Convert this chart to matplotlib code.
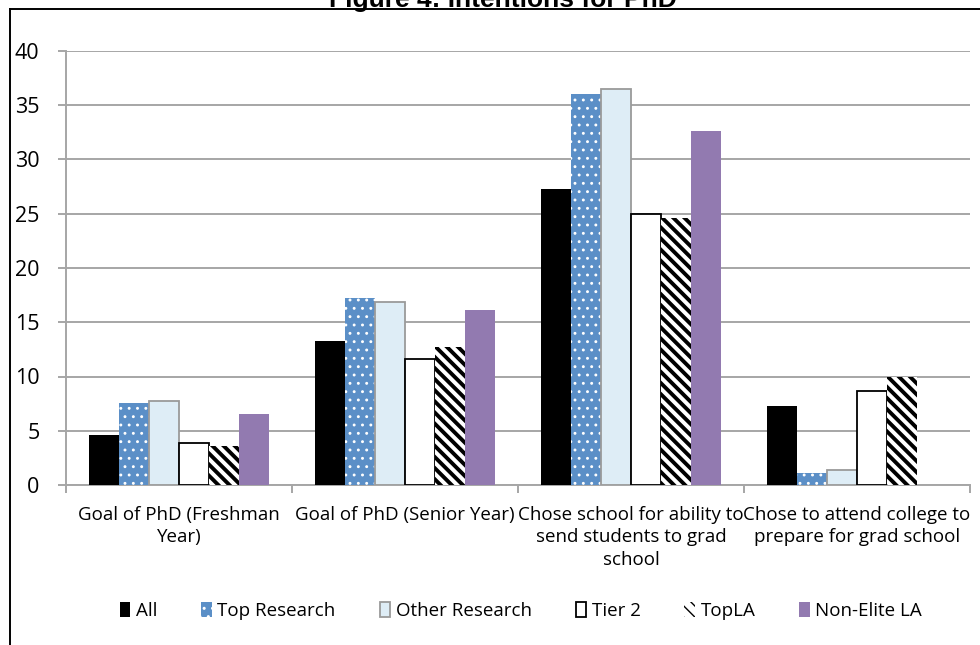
import matplotlib
matplotlib.use("Agg")
import matplotlib.pyplot as plt
from matplotlib.lines import Line2D
import numpy as np

plt.rcParams['font.family'] = ['Open Sans', 'DejaVu Sans']

title = "Figure 4: Intentions for PhD"
categories = [
    "Goal of PhD (Freshman\nYear)",
    "Goal of PhD (Senior Year)",
    "Chose school for ability to\nsend students to grad\nschool",
    "Chose to attend college to\nprepare for grad school",
]
series_names = ["All", "Top Research", "Other Research", "Tier 2", "TopLA", "Non-Elite LA"]
all_vals = [4.6, 13.3, 27.3, 7.3]
top_research = [7.55, 17.2, 36.0, 1.1]
other_research = [7.7, 16.9, 36.5, 1.4]
tier2 = [3.85, 11.6, 25.0, 8.65]
top_la = [3.6, 12.7, 24.6, 9.95]
non_elite_la = [6.5, 16.1, 32.6, 0.0]
y_ticks = [0, 5, 10, 15, 20, 25, 30, 35, 40]

series = [all_vals, top_research, other_research, tier2, top_la, non_elite_la]
styles = [
    dict(facecolor="black", edgecolor="black", linewidth=0),
    dict(facecolor="#5B8FC7", edgecolor="white", linewidth=0, hatch=".."),
    dict(facecolor="#DEEDF6", edgecolor="#9A9A9A", linewidth=1.3),
    dict(facecolor="white", edgecolor="black", linewidth=1.3),
    dict(facecolor="white", edgecolor="black", linewidth=0, hatch="\\\\\\"),
    dict(facecolor="#927AB0", edgecolor="#927AB0", linewidth=0),
]
hatch_lw = [None, 0.9, None, None, 2.8, None]

fig = plt.figure(figsize=(9.8, 6.45), dpi=100)
ax = fig.add_axes([66 / 980, 1 - 485 / 645, 904 / 980, 434 / 645])

x = np.arange(len(categories))
width = 0.8 / len(series)
handles = []
for i, (vals, st) in enumerate(zip(series, styles)):
    offs = -0.4 + width * (i + 0.5)
    with plt.rc_context({'hatch.linewidth': hatch_lw[i] or 1.0}):
        bars = ax.bar(x + offs, vals, width, label=series_names[i], zorder=3, **st)
        if hatch_lw[i]:
            for b in bars:
                if hasattr(b, "set_hatch_linewidth"):
                    b.set_hatch_linewidth(hatch_lw[i])
    handles.append(bars)

ax.set_xlim(-0.5, len(categories) - 0.5)
ax.set_ylim(0, 40)
ax.set_yticks(y_ticks)
ax.set_yticklabels([str(v) for v in y_ticks], fontsize=15.5)
ax.yaxis.grid(True, color="#A6A6A6", linewidth=1.4, zorder=0)
ax.set_axisbelow(True)
ax.tick_params(axis="y", length=6, width=1.4, color="#A6A6A6", pad=13)

ax.set_xticks(np.arange(len(categories) + 1) - 0.5)
ax.set_xticklabels([])
ax.set_xticks(x, minor=True)
ax.set_xticklabels(categories, minor=True, fontsize=13.5, linespacing=1.32)
ax.tick_params(axis="x", which="major", length=6, width=1.4, color="#A6A6A6")
ax.tick_params(axis="x", which="minor", length=0, pad=15)

for side in ("top", "right"):
    ax.spines[side].set_visible(False)
for side in ("left", "bottom"):
    ax.spines[side].set_color("#A6A6A6")
    ax.spines[side].set_linewidth(1.4)

leg = fig.legend(handles=handles, labels=series_names, loc="center",
                 bbox_to_anchor=(521 / 980, 1 - 611 / 645), ncol=6, frameon=False,
                 fontsize=13.5, handlelength=0.55, handleheight=0.9, handletextpad=0.3,
                 columnspacing=2.35)

fig.text(503 / 980, 1 - 0 / 645, title, ha="center", va="center",
         fontsize=19, fontweight="bold", family=["Liberation Sans", "DejaVu Sans"])

fig.add_artist(Line2D([10 / 980, 1.0], [1 - 9 / 645, 1 - 9 / 645],
                      transform=fig.transFigure, color="black", linewidth=1.4))
fig.add_artist(Line2D([10 / 980, 10 / 980], [1 - 9 / 645, 0.0],
                      transform=fig.transFigure, color="black", linewidth=1.4))

fig.savefig("out.png", dpi=100)
